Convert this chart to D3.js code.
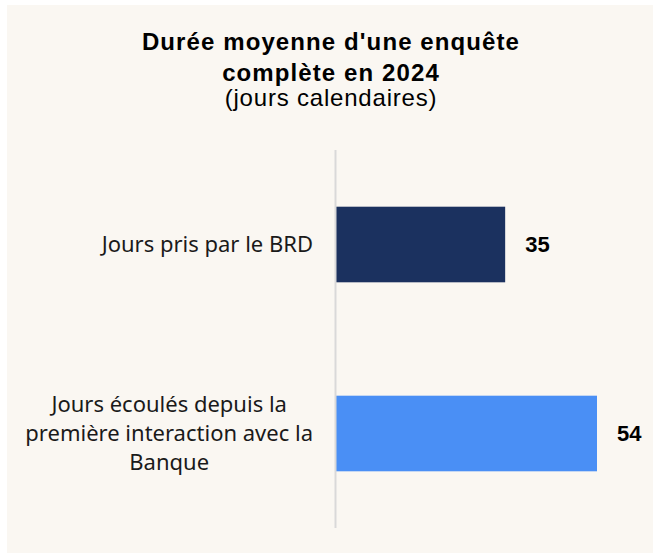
<!DOCTYPE html>
<html>
<head>
<meta charset="utf-8">
<script src="https://cdn.jsdelivr.net/npm/d3@7"></script>
<style>
  html, body { margin: 0; padding: 0; background: #ffffff; }
</style>
</head>
<body>
<div id="chart"></div>
<script>
// Data
var categories      =   [
    ["Jours pris par le BRD"],
    ["Jours écoulés depuis la", "première interaction avec la", "Banque"]
];
var values          =   [35, 54];
var colors          =   ["#1b315f", "#4a8ff5"];
var title_lines     =   ["Durée moyenne d'une enquête", "complète en 2024"];
var subtitle        =   "(jours calendaires)";

var chart_width     =   653;
var chart_height    =   554;
var axis_x          =   336;

var svg             =   d3.select("#chart")
    .append("svg")
    .attr("width", chart_width)
    .attr("height", chart_height);

// Background panel
svg.append("rect")
    .attr("x", 7)
    .attr("y", 5)
    .attr("width", chart_width - 7)
    .attr("height", chart_height - 6)
    .attr("fill", "#faf7f2");

// Title
var title = svg.append("text")
    .attr("text-anchor", "middle")
    .attr("font-family", "'Liberation Sans', Arial, sans-serif")
    .attr("font-size", "24px")
    .attr("letter-spacing", "1.1px")
    .attr("fill", "#000");
title_lines.forEach(function(t, i) {
    title.append("tspan")
        .attr("x", 331)
        .attr("y", 49.5 + i * 31)
        .attr("font-weight", "bold")
        .text(t);
});
title.append("tspan")
    .attr("x", 331)
    .attr("y", 106)
    .attr("letter-spacing", "0.8px")
    .text(subtitle);

// Scales
var idx             =   d3.range(values.length);
var y_scale         =   d3.scaleBand()
    .domain(idx)
    .range([150, 528])
    .paddingInner(0.6)
    .paddingOuter(0.3);

var x_scale         =   d3.scaleLinear()
    .domain([0, 60])
    .range([axis_x, axis_x + 290]);

// Bars
svg.selectAll("rect.bar")
    .data(values)
    .enter()
    .append("rect")
    .attr("class", "bar")
    .attr("x", x_scale(0))
    .attr("y", function(d, i) { return y_scale(i); })
    .attr("width", function(d) { return x_scale(d) - x_scale(0); })
    .attr("height", y_scale.bandwidth())
    .attr("fill", function(d, i) { return colors[i]; });

// Value labels
svg.selectAll("text.val")
    .data(values)
    .enter()
    .append("text")
    .attr("class", "val")
    .attr("x", function(d) { return x_scale(d) + 20; })
    .attr("y", function(d, i) { return y_scale(i) + y_scale.bandwidth() / 2; })
    .attr("dy", "0.35em")
    .attr("font-family", "'Liberation Sans', Arial, sans-serif")
    .attr("font-size", "22px")
    .attr("font-weight", "bold")
    .attr("fill", "#000")
    .text(function(d) { return d; });

// Axis line
svg.append("line")
    .attr("x1", axis_x - 0.5)
    .attr("x2", axis_x - 0.5)
    .attr("y1", 150)
    .attr("y2", 528)
    .attr("stroke", "#d9d9d9")
    .attr("stroke-width", 2);

// Category labels (block right-aligned, lines centred)
var label_right = 313;
var line_h = 29;
categories.forEach(function(lines, i) {
    var g = svg.append("text")
        .attr("font-family", "'Noto Sans', sans-serif")
        .attr("font-size", "22px")
        .attr("fill", "#1a1a1a")
        .attr("text-anchor", "middle");
    var cy = y_scale(i) + y_scale.bandwidth() / 2;
    var top = cy - (lines.length - 1) * line_h / 2;
    var spans = lines.map(function(t, j) {
        return g.append("tspan")
            .attr("y", top + j * line_h)
            .attr("dy", "0.35em")
            .text(t);
    });
    var maxw = d3.max(spans, function(s) { return s.node().getComputedTextLength(); });
    spans.forEach(function(s) { s.attr("x", label_right - maxw / 2); });
});
</script>
</body>
</html>
